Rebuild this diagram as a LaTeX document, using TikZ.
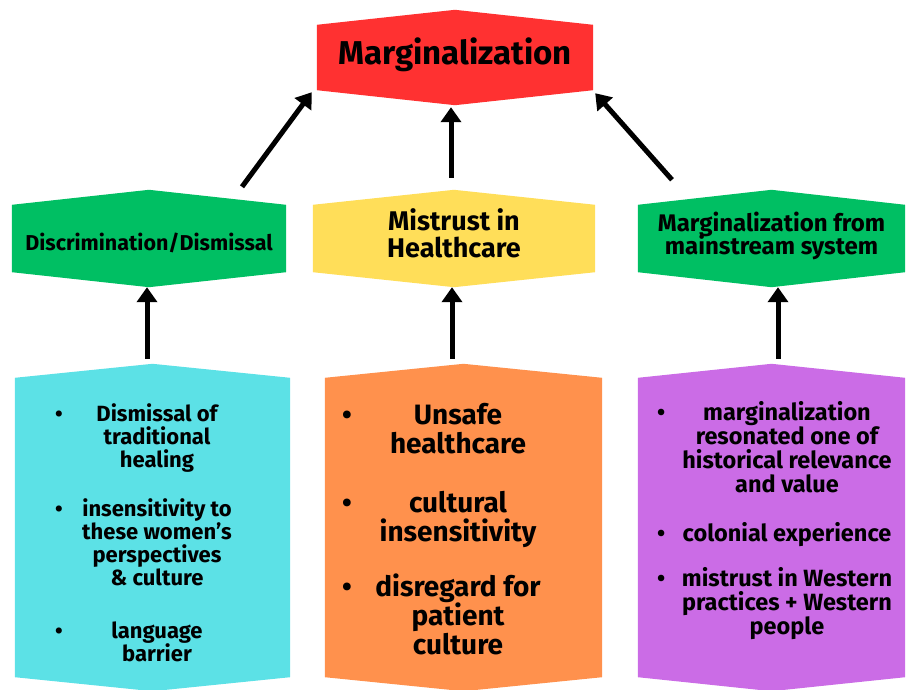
\documentclass[tikz,border=0pt]{standalone}
\usepackage{fontspec}
\usepackage{array}
\setmainfont{Fira Sans}
\usetikzlibrary{arrows.meta, calc, backgrounds}
\definecolor{clrTop}{HTML}{FF3131}
\definecolor{clrGreen}{HTML}{00BF63}
\definecolor{clrYellow}{HTML}{FFDE59}
\definecolor{clrCyan}{HTML}{5CE1E6}
\definecolor{clrOrange}{HTML}{FF914D}
\definecolor{clrPurple}{HTML}{CB6CE6}
\tikzset{
  banner/.style = {rectangle, inner sep=0pt, minimum height=#1},
  heading/.style = {align=center, text=black, inner sep=0pt},
  listing/.style = {anchor=base west, inner sep=0pt},
  arrow/.style = {-{Triangle[length=15pt, width=20pt]}, line width=5pt},
}
\newcommand{\bannerfill}[3]{%
  \fill[#2] (#1.north west) -- ([yshift=#3]#1.north) -- (#1.north east)
    -- (#1.south east) -- ([yshift=-#3]#1.south) -- (#1.south west) -- cycle;}
\newcommand{\setsize}[2]{\bfseries\fontsize{#1}{#2}\selectfont\lineskiplimit=-8pt\lineskip=0pt}
\newcolumntype{C}[1]{>{\centering\arraybackslash}p{#1}}

\begin{document}
\begin{tikzpicture}[x=1pt, y=-1pt]
\useasboundingbox (0,0) rectangle (907,690);

% Top
\node[banner=65pt, minimum width=276pt] (top) at (455,57.5) {};
\node[heading, font=\setsize{33}{35}] (topLabel) at ([yshift=3pt]top) {Marginalization};

% Middle row
\node[banner=67pt, minimum width=274pt] (discr) at (149,238.5) {};
\node[banner=67pt, minimum width=282pt] (mistrust) at (454,238.5) {};
\node[banner=67pt, minimum width=267pt] (margsys) at (771.5,238.5) {};
\node[heading, font=\setsize{21.5}{23}] (discrLabel) at ([yshift=-4pt]discr) {Discrimination/Dismissal};
\node[heading, font=\setsize{27}{27}] (mistrustLabel) at ([yshift=5.5pt]mistrust) {Mistrust in\\Healthcare};
\node[heading, font=\setsize{24}{23}] (margsysLabel) at ([yshift=3pt]margsys) {Marginalization from\\mainstream system};

% Bottom row
\node[banner=299pt, minimum width=275pt] (boxDiscr) at (152.5,527.5) {};
\node[banner=299pt, minimum width=277pt] (boxMistrust) at (463.5,527.5) {};
\node[banner=299pt, minimum width=267pt] (boxMarg) at (771.5,527.5) {};

\node[listing, xshift=40pt, yshift=-43.5pt, font=\setsize{22}{23}] (listDiscr) at (boxDiscr.north west)
  {\begin{tabular}[t]{@{}p{12pt}@{}C{180pt}@{}}
   \textbullet & Dismissal of\endgraf traditional\endgraf healing \\ \noalign{\vskip 24pt}
   \textbullet & insensitivity to\endgraf these women’s\endgraf perspectives\endgraf \& culture \\ \noalign{\vskip 30pt}
   \textbullet & language\endgraf barrier
   \end{tabular}};
\node[listing, xshift=17pt, yshift=-47pt, font=\setsize{28}{29}] (listMistrust) at (boxMistrust.north west)
  {\begin{tabular}[t]{@{}p{21pt}@{}C{190pt}@{}}
   \textbullet & Unsafe\endgraf healthcare \\ \noalign{\vskip 29pt}
   \textbullet & cultural\endgraf insensitivity \\ \noalign{\vskip 23pt}
   \textbullet & disregard for\endgraf patient\endgraf culture
   \end{tabular}};
\node[listing, xshift=19pt, yshift=-43pt, font=\setsize{23.5}{24}] (listMarg) at (boxMarg.north west)
  {\begin{tabular}[t]{@{}p{15pt}@{}C{230pt}@{}}
   \textbullet & marginalization\endgraf resonated one of\endgraf historical relevance\endgraf and value \\ \noalign{\vskip 22pt}
   \textbullet & colonial experience \\ \noalign{\vskip 19pt}
   \textbullet & mistrust in Western\endgraf practices + Western\endgraf people
   \end{tabular}};

% Shapes behind the text
\begin{scope}[on background layer]
  \bannerfill{top}{clrTop}{15pt}
  \bannerfill{discr}{clrGreen}{15pt}
  \bannerfill{mistrust}{clrYellow}{15pt}
  \bannerfill{margsys}{clrGreen}{15pt}
  \bannerfill{boxDiscr}{clrCyan}{14pt}
  \bannerfill{boxMistrust}{clrOrange}{14pt}
  \bannerfill{boxMarg}{clrPurple}{14pt}
\end{scope}

% Arrows
\draw[arrow] ([xshift=93pt, yshift=18pt]discr.north) -- ([xshift=-5pt, yshift=-2pt]top.south west);
\draw[arrow] ([xshift=-3pt, yshift=27pt]mistrust.north) -- ([xshift=-4pt, yshift=-17pt]top.south);
\draw[arrow] ([xshift=-99.5pt, yshift=25pt]margsys.north) -- ([xshift=2pt, yshift=-3pt]top.south east);
\draw[arrow] ([xshift=-5.5pt, yshift=19pt]boxDiscr.north) -- ([xshift=-2pt, yshift=-15pt]discr.south);
\draw[arrow] ([xshift=-11.5pt, yshift=19pt]boxMistrust.north) -- ([xshift=-2pt, yshift=-15pt]mistrust.south);
\draw[arrow] ([xshift=6.5pt, yshift=19pt]boxMarg.north) -- ([xshift=6.5pt, yshift=-15pt]margsys.south);
\end{tikzpicture}
\end{document}
